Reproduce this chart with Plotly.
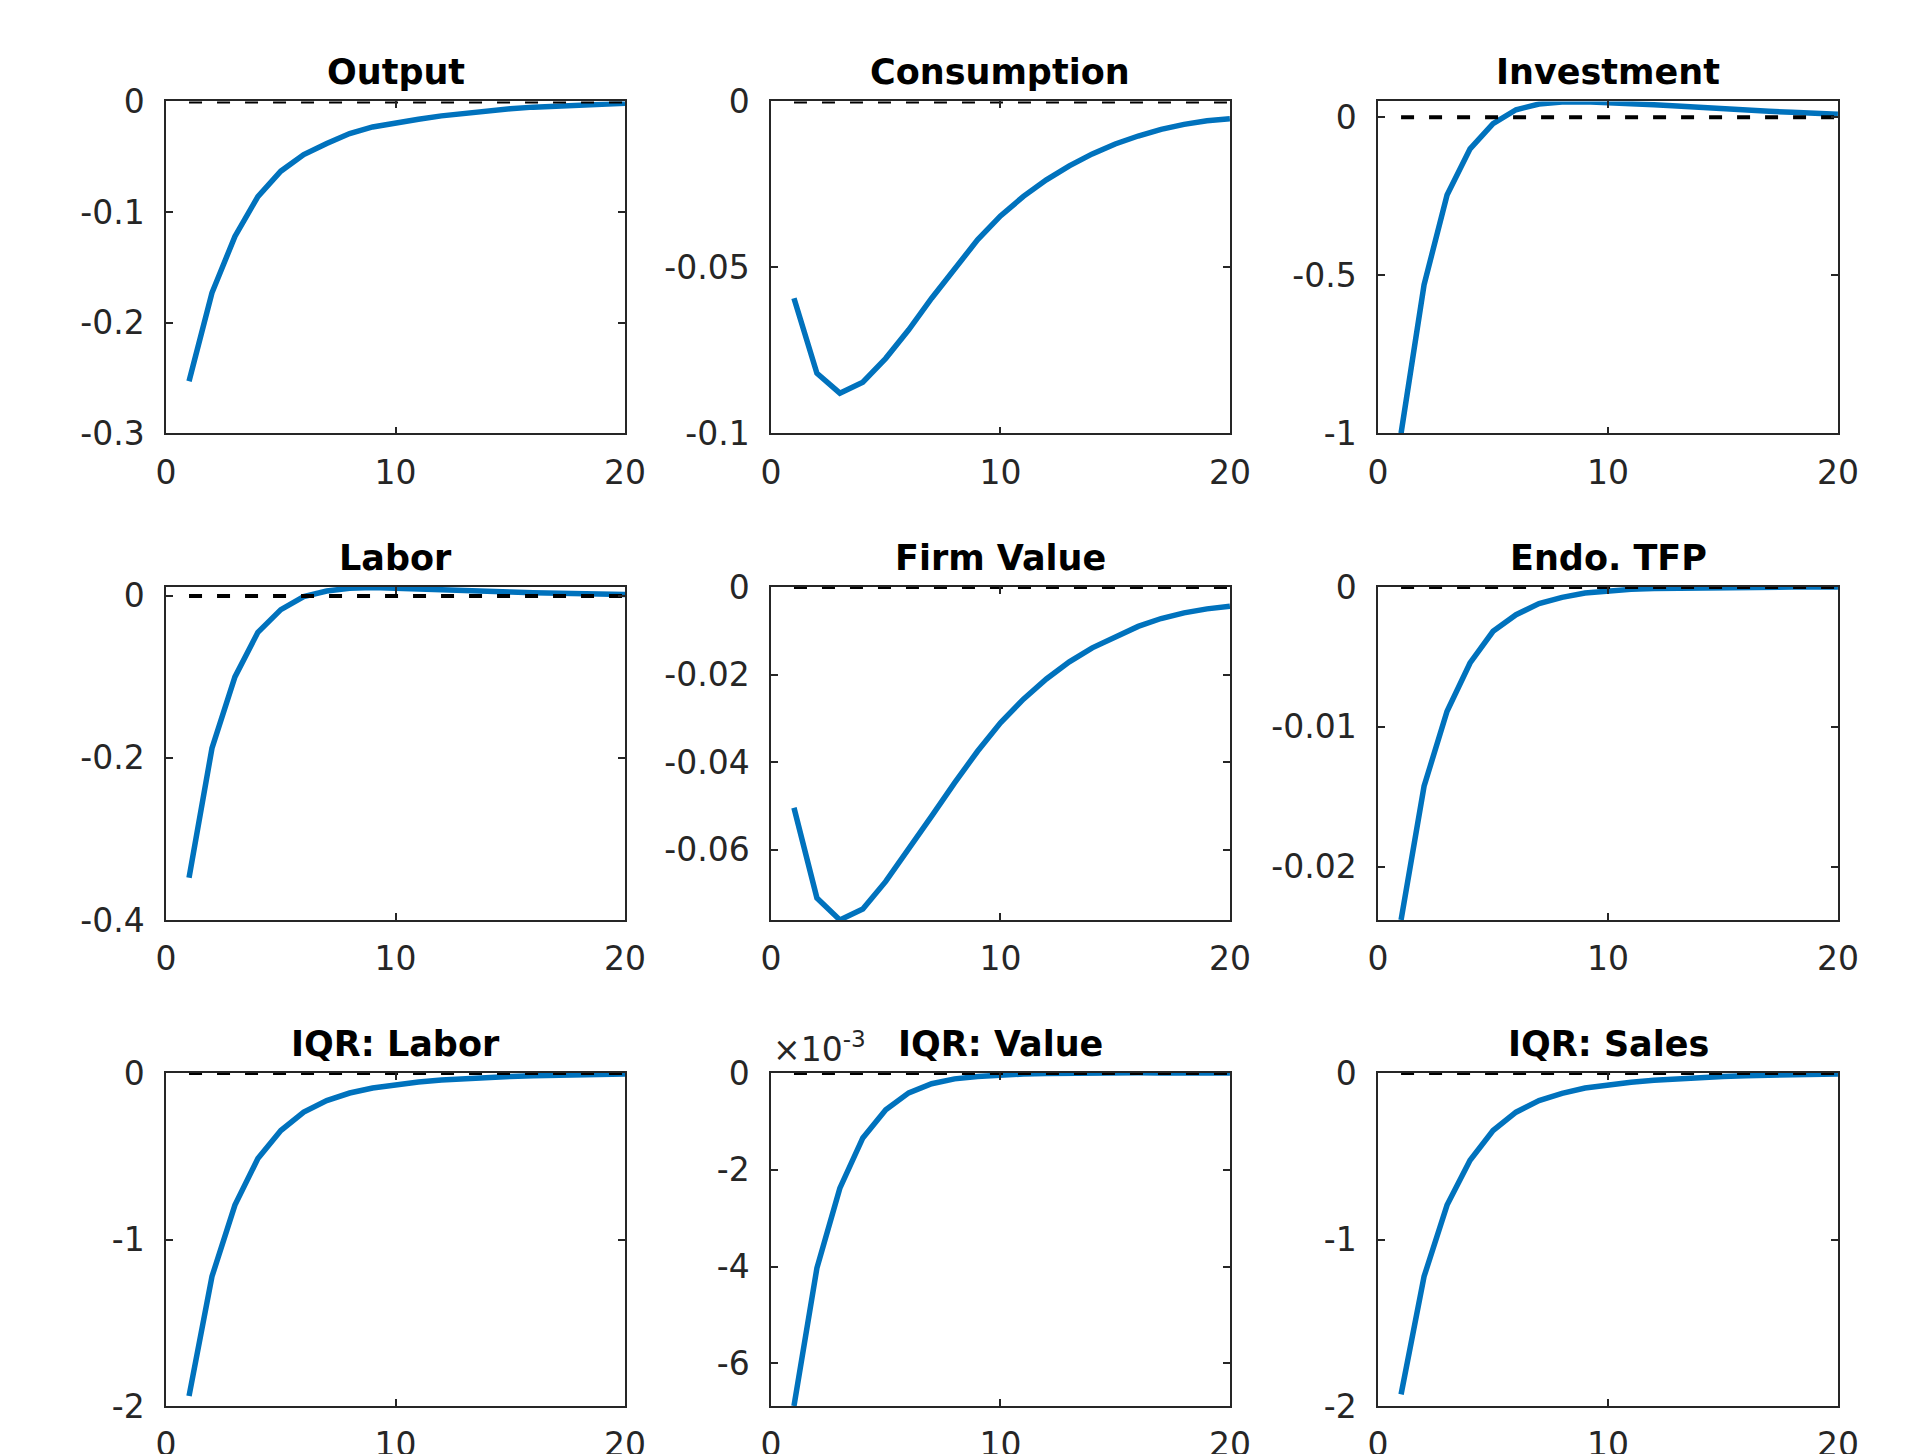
import plotly.graph_objects as go

# ---------------- data ----------------
periods = list(range(1, 21))

titles = ["Output", "Consumption", "Investment",
          "Labor", "Firm Value", "Endo. TFP",
          "IQR: Labor", "IQR: Value", "IQR: Sales"]

output = [-0.253, -0.173, -0.122, -0.086, -0.063, -0.048, -0.038, -0.029, -0.023, -0.019,
          -0.016, -0.013, -0.0105, -0.0085, -0.0066, -0.0051, -0.0040, -0.0030, -0.0022, -0.0017]
consumption = [-0.0593, -0.0819, -0.0879, -0.0846, -0.0774, -0.0688, -0.0593, -0.0503, -0.0417, -0.0345,
               -0.0286, -0.0236, -0.0194, -0.0158, -0.0128, -0.0104, -0.0084, -0.0069, -0.0058, -0.0052]
investment = [-1.0, -0.53, -0.246, -0.100, -0.020, 0.024, 0.042, 0.048, 0.049, 0.047,
              0.044, 0.040, 0.036, 0.031, 0.027, 0.023, 0.019, 0.016, 0.013, 0.010]
labor = [-0.348, -0.188, -0.100, -0.045, -0.017, -0.001, 0.006, 0.0095, 0.0105, 0.0098,
         0.0088, 0.0077, 0.0066, 0.0056, 0.0047, 0.0039, 0.0032, 0.0026, 0.0021, 0.0017]
firm_value = [-0.0504, -0.0710, -0.0760, -0.0735, -0.0672, -0.0599, -0.0523, -0.0447, -0.0375, -0.0310,
              -0.0256, -0.0210, -0.0171, -0.0139, -0.0113, -0.0090, -0.0072, -0.0059, -0.0050, -0.0044]
endo_tfp = [-0.0238, -0.01424, -0.00888, -0.00543, -0.00317, -0.00198, -0.00119, -0.00074, -0.00043, -0.00026,
            -0.00017, -0.00010, -0.00007, -0.00005, -0.00003, -0.00002, -0.00001, -0.00001, 0.0, 0.0]
iqr_labor = [-1.94, -1.222, -0.793, -0.514, -0.345, -0.235, -0.165, -0.120, -0.090, -0.070,
             -0.054, -0.042, -0.032, -0.026, -0.020, -0.016, -0.012, -0.010, -0.008, -0.006]
iqr_value_e3 = [-6.88, -4.03, -2.38, -1.34, -0.76, -0.41, -0.22, -0.12, -0.07, -0.04,
                -0.02, -0.01, 0.0, 0.003, 0.004, 0.004, 0.003, 0.003, 0.002, 0.001]
iqr_sales = [-1.93, -1.222, -0.793, -0.524, -0.345, -0.235, -0.165, -0.122, -0.090, -0.070,
             -0.055, -0.043, -0.034, -0.027, -0.021, -0.016, -0.012, -0.009, -0.007, -0.005]

series = [output, consumption, investment, labor, firm_value, endo_tfp,
          iqr_labor, iqr_value_e3, iqr_sales]

zero_line = [0.0] * len(periods)

y_ranges = [[-0.3, 0], [-0.1, 0], [-1.0, 0.05],
            [-0.4, 0.011], [-0.076, 0], [-0.0238, 0],
            [-2, 0], [-6.88, 0.0], [-2, 0]]

y_tickvals = [[0, -0.1, -0.2, -0.3], [0, -0.05, -0.1], [0, -0.5, -1],
              [0, -0.2, -0.4], [0, -0.02, -0.04, -0.06], [0, -0.01, -0.02],
              [0, -1, -2], [0, -2, -4, -6], [0, -1, -2]]
y_ticktext = [["0", "-0.1", "-0.2", "-0.3"], ["0", "-0.05", "-0.1"], ["0", "-0.5", "-1"],
              ["0", "-0.2", "-0.4"], ["0", "-0.02", "-0.04", "-0.06"], ["0", "-0.01", "-0.02"],
              ["0", "-1", "-2"], ["0", "-2", "-4", "-6"], ["0", "-1", "-2"]]

x_range = [0, 20]
x_tickvals = [0, 10, 20]
x_ticktext = ["0", "10", "20"]

exponent_label = "×10<sup>-3</sup>"
exponent_panel = 7

# ---------------- layout ----------------
W, H = 1929, 1454
col_domains = [[0.0861, 0.3240], [0.3997, 0.6376], [0.7144, 0.9528]]
row_domains = [[0.7020, 0.9302], [0.3673, 0.5963], [0.0330, 0.2620]]

BLUE = "#0072BD"
AX = "#262626"
FONT = "DejaVu Sans"

fig = go.Figure()
layout = dict(
    template="none",
    width=W, height=H, autosize=False,
    margin=dict(l=0, r=0, t=0, b=0, pad=0),
    paper_bgcolor="white", plot_bgcolor="white",
    showlegend=False,
    font=dict(family=FONT, color=AX),
)
annotations = []

for i, (title, ys) in enumerate(zip(titles, series)):
    r, c = divmod(i, 3)
    n = i + 1
    xa = "x" if n == 1 else f"x{n}"
    ya = "y" if n == 1 else f"y{n}"
    xkey = "xaxis" if n == 1 else f"xaxis{n}"
    ykey = "yaxis" if n == 1 else f"yaxis{n}"

    fig.add_trace(go.Scatter(x=periods, y=ys, mode="lines",
                             line=dict(color=BLUE, width=5.5),
                             xaxis=xa, yaxis=ya, hoverinfo="skip"))
    fig.add_trace(go.Scatter(x=periods, y=zero_line, mode="lines",
                             line=dict(color="black", width=4, dash="13px,15px"),
                             xaxis=xa, yaxis=ya, hoverinfo="skip"))

    common = dict(showline=True, linecolor=AX, linewidth=1.5, mirror="ticks",
                  ticks="inside", ticklen=7, tickwidth=1.5, tickcolor=AX,
                  showgrid=False, zeroline=False, automargin=False,
                  tickfont=dict(family=FONT, size=33, color=AX))
    layout[xkey] = dict(domain=col_domains[c], anchor=ya, range=x_range,
                        tickmode="array", tickvals=x_tickvals, ticktext=x_ticktext,
                        ticklabelstandoff=9, **common)
    layout[ykey] = dict(domain=row_domains[r], anchor=xa, range=y_ranges[i],
                        tickmode="array", tickvals=y_tickvals[i], ticktext=y_ticktext[i],
                        ticklabelstandoff=13, **common)

    annotations.append(dict(text=title, xref=f"{xa} domain", yref=f"{ya} domain",
                            x=0.5, y=1, xanchor="center", yanchor="bottom", yshift=7,
                            showarrow=False,
                            font=dict(family=FONT, size=35, color="black", weight="bold")))
    if i == exponent_panel:
        annotations.append(dict(text=exponent_label, xref=f"{xa} domain", yref=f"{ya} domain",
                                x=0, y=1, xanchor="left", yanchor="bottom", yshift=2,
                                showarrow=False,
                                font=dict(family=FONT, size=33, color=AX)))

layout["annotations"] = annotations
fig.update_layout(**layout)

fig.write_html("out.html", config={"displayModeBar": False},
               post_script="document.body.style.margin='0';document.body.style.overflow='hidden';")
